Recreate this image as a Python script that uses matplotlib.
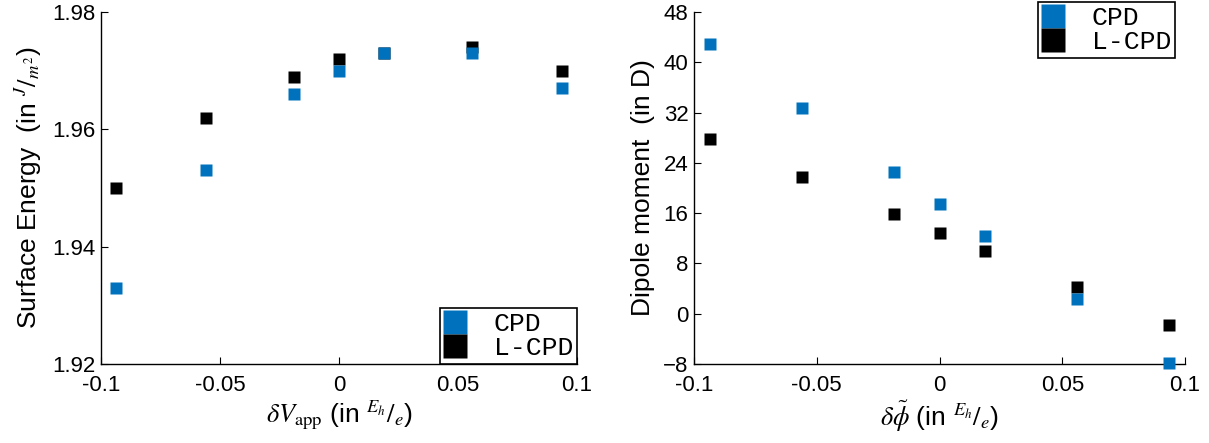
import matplotlib
matplotlib.use('Agg')
import matplotlib.pyplot as plt
from matplotlib.lines import Line2D

plt.rcParams['font.family'] = ['Liberation Sans', 'DejaVu Sans']
plt.rcParams['mathtext.fontset'] = 'stix'

# data
dv = [-0.0935, -0.056, -0.0187, 0.0, 0.0187, 0.056, 0.0935]
energy_cpd = [1.933, 1.953, 1.966, 1.970, 1.973, 1.973, 1.967]
energy_lcpd = [1.950, 1.962, 1.969, 1.972, 1.973, 1.974, 1.970]
dipole_cpd = [42.9, 32.8, 22.6, 17.5, 12.4, 2.4, -7.9]
dipole_lcpd = [27.8, 21.8, 15.9, 12.9, 10.0, 4.2, -1.8]

xticks = [-0.1, -0.05, 0, 0.05, 0.1]
xtick_labels = ['-0.1', '-0.05', '0', '0.05', '0.1']
e_ticks = [1.92, 1.94, 1.96, 1.98]
d_ticks = [-8, 0, 8, 16, 24, 32, 40, 48]

blue = '#0072BD'
W, H = 1209, 443
fig = plt.figure(figsize=(W / 100, H / 100), dpi=100)

ax1 = fig.add_axes([101 / W, 79 / H, 476 / W, 352 / H])
ax2 = fig.add_axes([694 / W, 79 / H, 491 / W, 352 / H])

ms = 8
for ax, ycpd, ylcpd in [(ax1, energy_cpd, energy_lcpd), (ax2, dipole_cpd, dipole_lcpd)]:
    ax.plot(dv, ylcpd, 's', color='black', ms=ms, mec='none', clip_on=False, zorder=3)
    ax.plot(dv, ycpd, 's', color=blue, ms=ms, mec='none', clip_on=False, zorder=4)
    ax.set_xlim(-0.1, 0.1)
    ax.set_xticks(xticks)
    ax.set_xticklabels(xtick_labels)
    ax.spines['top'].set_visible(False)
    ax.spines['right'].set_visible(False)
    for s in ['left', 'bottom']:
        ax.spines[s].set_linewidth(1.0)
    ax.tick_params(direction='in', length=5, width=0.8, labelsize=16)
    ax.tick_params(axis='x', pad=8)
    ax.tick_params(axis='y', pad=4)

ax1.set_ylim(1.92, 1.98)
ax1.set_yticks(e_ticks)
ax1.set_yticklabels(['%.2f' % t for t in e_ticks])
ax2.set_ylim(-8, 48)
ax2.set_yticks(d_ticks)

ax1.set_ylabel(r'Surface Energy  (in ${}^{J}/{}_{m^{2}}$)', fontsize=19, labelpad=6)
ax2.set_ylabel('Dipole moment  (in D)', fontsize=19, labelpad=6)
ax1.set_xlabel(r'$\delta V_{\mathrm{app}}$ (in ${}^{E_h}/{}_{e}$)', fontsize=19, labelpad=2)
ax2.set_xlabel(r'$\delta\tilde{\phi}$ (in ${}^{E_h}/{}_{e}$)', fontsize=19, labelpad=2)

handles = [Line2D([], [], marker='s', ls='none', color=blue, mec='none', ms=17),
           Line2D([], [], marker='s', ls='none', color='black', mec='none', ms=17)]
labels = ['CPD', 'L-CPD']

for ax, loc, anchor in [(ax1, 'lower right', (577 / W, 79 / H)),
                        (ax2, 'upper right', (1175 / W, (H - 2) / H))]:
    leg = ax.legend(handles, labels, loc=loc, bbox_to_anchor=anchor,
                    bbox_transform=fig.transFigure, borderaxespad=0,
                    prop={'family': 'Liberation Mono', 'size': 19},
                    fancybox=False, framealpha=1, edgecolor='black',
                    handlelength=0.9, handletextpad=1.0, borderpad=0.15,
                    labelspacing=0.0)
    leg.get_frame().set_linewidth(1.2)
    leg.set_zorder(5)

fig.savefig('out.png', dpi=100)
